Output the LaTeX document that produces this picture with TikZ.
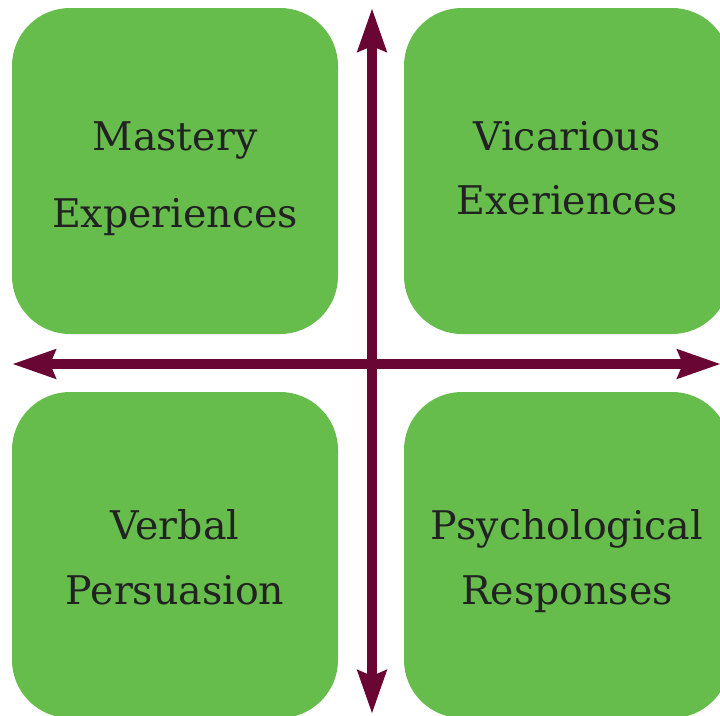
\documentclass[tikz,border=0pt]{standalone}
\usepackage{fontspec}
\setmainfont{DejaVu Serif}
\usetikzlibrary{arrows.meta}
\definecolor{boxgreen}{HTML}{66BD4C}
\definecolor{axiswine}{HTML}{6A0633}
\definecolor{inkgray}{HTML}{222222}
\tikzset{
  quad/.style={fill=boxgreen, draw=none, rounded corners=58pt, minimum size=326pt, inner sep=0pt},
  label/.style={text=inkgray, font=\fontsize{39.5}{46}\selectfont, inner sep=0pt, anchor=base},
  axis/.style={draw=axiswine, line width=9.5pt,
    arrows={Stealth[length=43pt, width=28pt, inset=5pt]-Stealth[length=43pt, width=28pt, inset=5pt]}}
}
\begin{document}
\begin{tikzpicture}[x=1pt, y=-1pt]
  \useasboundingbox (0,0) rectangle (720,715);
  \clip (0,0) rectangle (720,715);
  \fill[white] (0,0) rectangle (720,715);
  % four quadrants
  \node[quad] (tl) at (175,171) {};
  \node[quad] (tr) at (567,171) {};
  \node[quad] (bl) at (175,555) {};
  \node[quad] (br) at (567,555) {};
  % quadrant labels
  \node[label] (tl1) at (175,150) {Mastery};
  \node[label] (tl2) at (175,227) {Experiences};
  \node[label] (tr1) at (567,150) {Vicarious};
  \node[label] (tr2) at (567,214) {Exeriences};
  \node[label] (bl1) at (175,539) {Verbal};
  \node[label] (bl2) at (175,604) {Persuasion};
  \node[label] (br1) at (567,539) {Psychological};
  \node[label] (br2) at (567,604) {Responses};
  % axes
  \coordinate (up) at (372,8);
  \coordinate (down) at (372,714);
  \coordinate (west) at (12,364);
  \coordinate (east) at (721,364);
  \draw[axis] (west) -- (east);
  \draw[axis] (up) -- (down);
\end{tikzpicture}
\end{document}
